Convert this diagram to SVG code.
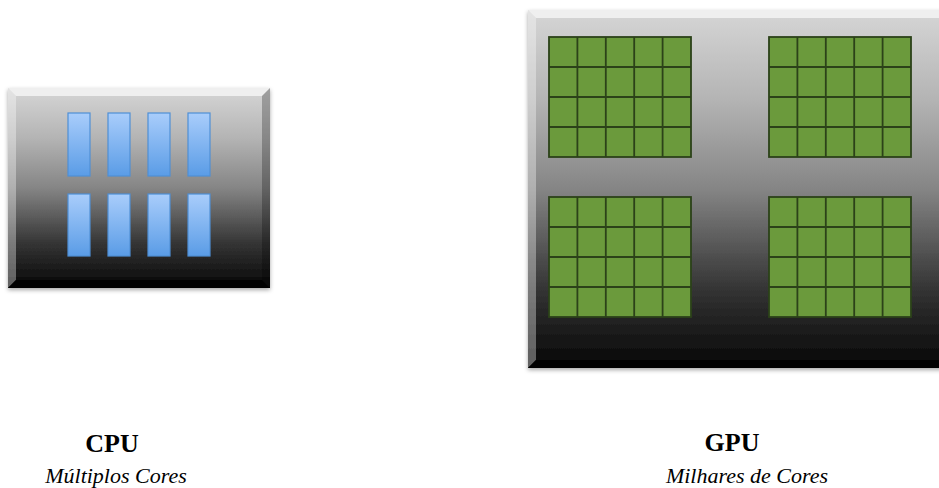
<svg xmlns="http://www.w3.org/2000/svg" width="939" height="488" viewBox="0 0 939 488">
<style>
  .title { font-family: "Liberation Serif", "Times New Roman", serif; font-weight: bold; font-size: 26px; fill: #000; text-anchor: middle; }
  .sub { font-family: "Liberation Serif", "Times New Roman", serif; font-style: italic; font-size: 22px; fill: #000; text-anchor: middle; }
  .bar { fill: url(#blue); stroke: #4f8fd6; stroke-width: 1.2; }
  .grid { fill: #6b9a3c; stroke: #2c4219; stroke-width: 1.8; }
  .gl { stroke: #2c4219; stroke-width: 1.8; fill: none; }
</style>
<defs>
  <linearGradient id="body" x1="0" y1="0" x2="0" y2="1">
    <stop offset="0" stop-color="#d6d6d6"/>
    <stop offset="0.25" stop-color="#b4b4b4"/>
    <stop offset="0.5" stop-color="#858585"/>
    <stop offset="0.78" stop-color="#343434"/>
    <stop offset="1" stop-color="#060606"/>
  </linearGradient>
  <linearGradient id="blue" x1="0" y1="0" x2="0" y2="1">
    <stop offset="0" stop-color="#a9cdfb"/>
    <stop offset="1" stop-color="#5a9ce6"/>
  </linearGradient>
  <filter id="sh" x="-5%" y="-5%" width="110%" height="115%">
    <feDropShadow dx="0" dy="2" stdDeviation="2" flood-color="#000" flood-opacity="0.35"/>
  </filter>
</defs>

<g id="cpu">
  <rect x="8" y="88" width="262" height="200" fill="url(#body)" filter="url(#sh)"/>
  <polygon points="8,88 270,88 262,96 16,96" fill="#efefef"/>
  <polygon points="8,88 16,96 16,280 8,288" fill="#ffffff" opacity="0.35"/>
  <polygon points="270,88 262,96 262,280 270,288" fill="#000000" opacity="0.25"/>
  <polygon points="8,288 16,280 262,280 270,288" fill="#000000"/>
  <rect class="bar" x="68" y="113" width="22" height="63"/>
  <rect class="bar" x="108" y="113" width="22" height="63"/>
  <rect class="bar" x="148" y="113" width="22" height="63"/>
  <rect class="bar" x="188" y="113" width="22" height="63"/>
  <rect class="bar" x="68" y="194" width="22" height="62"/>
  <rect class="bar" x="108" y="194" width="22" height="62"/>
  <rect class="bar" x="148" y="194" width="22" height="62"/>
  <rect class="bar" x="188" y="194" width="22" height="62"/>
</g>

<g id="gpu">
  <rect x="528" y="10" width="420" height="358" fill="url(#body)" filter="url(#sh)"/>
  <polygon points="528,10 948,10 940,18 536,18" fill="#efefef"/>
  <polygon points="528,10 536,18 536,360 528,368" fill="#ffffff" opacity="0.35"/>
  <polygon points="528,368 536,360 948,360 948,368" fill="#000000"/>
  <g id="grid1">
    <rect class="grid" x="549" y="37" width="142" height="120"/>
    <path class="gl" d="M577.4,37V157M605.8,37V157M634.2,37V157M662.6,37V157M549,67H691M549,97H691M549,127H691"/>
  </g>
  <g id="grid2">
    <rect class="grid" x="769" y="37" width="142" height="120"/>
    <path class="gl" d="M797.4,37V157M825.8,37V157M854.2,37V157M882.6,37V157M769,67H911M769,97H911M769,127H911"/>
  </g>
  <g id="grid3">
    <rect class="grid" x="549" y="197" width="142" height="120"/>
    <path class="gl" d="M577.4,197V317M605.8,197V317M634.2,197V317M662.6,197V317M549,227H691M549,257H691M549,287H691"/>
  </g>
  <g id="grid4">
    <rect class="grid" x="769" y="197" width="142" height="120"/>
    <path class="gl" d="M797.4,197V317M825.8,197V317M854.2,197V317M882.6,197V317M769,227H911M769,257H911M769,287H911"/>
  </g>
</g>

<g id="connectors"/>

<g id="labels">
  <text class="title" x="112" y="452">CPU</text>
  <text class="sub" x="116" y="483">Múltiplos Cores</text>
  <text class="title" x="732" y="451">GPU</text>
  <text class="sub" x="747" y="483">Milhares de Cores</text>
</g>
</svg>
